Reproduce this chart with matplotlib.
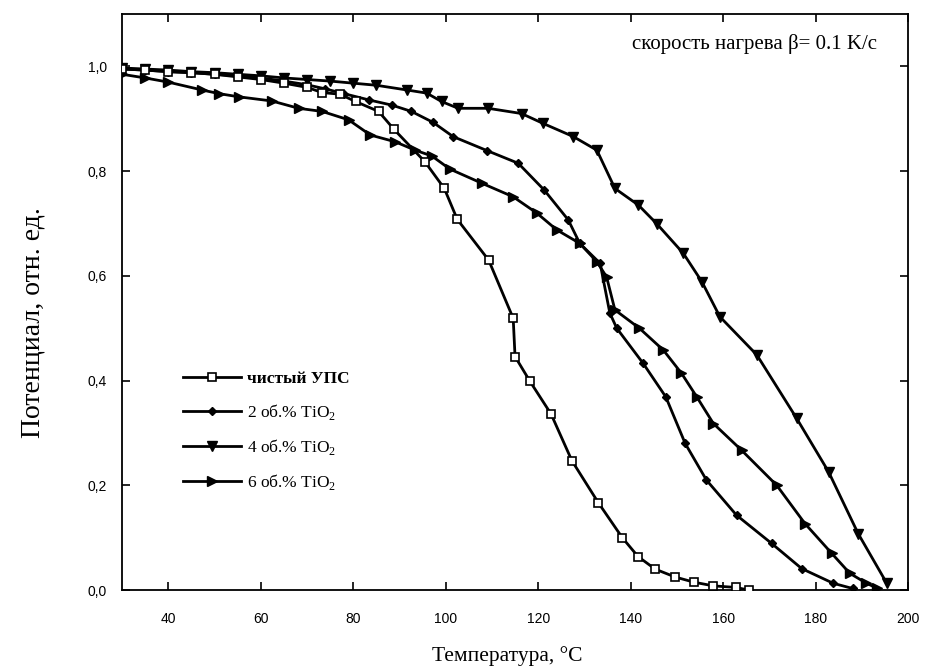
import matplotlib
matplotlib.use("Agg")
import matplotlib.pyplot as plt
from matplotlib.ticker import FuncFormatter, MultipleLocator

# температура, °C и потенциал (отн. ед.) для каждого образца
t_pure = [30, 35, 40, 45, 50, 55, 60, 65, 70, 73.3, 77.1, 80.5, 85.5, 88.8, 95.5, 99.7,
          102.5, 109.3, 114.6, 115.0, 118.2, 122.8, 127.3, 133.0, 138.2, 141.6, 145.3,
          149.6, 153.7, 157.9, 162.8, 165.5]
v_pure = [0.995, 0.993, 0.99, 0.988, 0.985, 0.98, 0.975, 0.968, 0.96, 0.95, 0.947, 0.933,
          0.914, 0.88, 0.818, 0.767, 0.708, 0.63, 0.519, 0.446, 0.399, 0.336, 0.247, 0.167,
          0.10, 0.064, 0.04, 0.025, 0.015, 0.008, 0.005, 0.0]

t_ti2 = [30, 35, 40, 45, 50, 55, 60, 65, 70, 74, 78, 83.4, 88.4, 92.6, 97.3, 101.6, 109.0,
         115.7, 121.3, 126.5, 129.0, 133.4, 135.5, 137.0, 142.7, 147.6, 151.8, 156.4,
         162.9, 170.5, 177.0, 183.8, 188.0]
v_ti2 = [0.995, 0.993, 0.99, 0.988, 0.985, 0.982, 0.978, 0.972, 0.965, 0.957, 0.948, 0.936,
         0.926, 0.914, 0.893, 0.866, 0.839, 0.815, 0.764, 0.707, 0.662, 0.624, 0.529, 0.50,
         0.433, 0.369, 0.28, 0.21, 0.143, 0.089, 0.041, 0.013, 0.003]

t_ti4 = [30, 35, 40, 45, 50, 55, 60, 65, 70, 75, 80, 85, 91.6, 95.9, 99.1, 102.7, 109.2,
         116.4, 121.1, 127.6, 132.7, 136.6, 141.7, 145.6, 151.4, 155.4, 159.3, 167.3,
         175.9, 182.8, 189.2, 195.4]
v_ti4 = [0.997, 0.995, 0.993, 0.99, 0.988, 0.985, 0.982, 0.978, 0.975, 0.972, 0.968, 0.964,
         0.955, 0.949, 0.933, 0.92, 0.92, 0.91, 0.891, 0.866, 0.84, 0.767, 0.735, 0.70,
         0.643, 0.589, 0.522, 0.449, 0.328, 0.226, 0.108, 0.013]

t_ti6 = [30, 35, 40, 47.3, 51, 55.2, 62.4, 68.2, 73.3, 79.0, 83.7, 89.1, 93.4, 97.0, 100.9,
         107.8, 114.6, 119.7, 124.0, 129.0, 132.7, 134.8, 136.6, 141.9, 147.1, 151.0,
         154.3, 157.9, 164.0, 171.6, 177.7, 183.5, 187.4, 191.0, 193.2]
v_ti6 = [0.985, 0.978, 0.97, 0.955, 0.948, 0.942, 0.934, 0.92, 0.914, 0.898, 0.869, 0.856,
         0.84, 0.829, 0.804, 0.777, 0.751, 0.72, 0.688, 0.662, 0.627, 0.598, 0.535, 0.50,
         0.458, 0.414, 0.369, 0.318, 0.267, 0.20, 0.127, 0.07, 0.032, 0.013, 0.004]

labels = ["чистый УПС", "2 об.% TiO$_2$", "4 об.% TiO$_2$", "6 об.% TiO$_2$"]

serif = "Liberation Serif"
sans = "Liberation Sans"
plt.rcParams["mathtext.fontset"] = "custom"
plt.rcParams["mathtext.rm"] = serif

fig = plt.figure(figsize=(9.28, 6.69), dpi=100)
ax = fig.add_axes([0.1315, 0.118, 0.847, 0.861])

lw = 2.0
ax.plot(t_pure, v_pure, color="black", lw=lw, marker="s", ms=6, mfc="white",
        mec="black", mew=1.2, label=labels[0], zorder=3)
ax.plot(t_ti2, v_ti2, color="black", lw=lw, marker="D", ms=4.5, mfc="black",
        mec="black", label=labels[1], zorder=2)
ax.plot(t_ti4, v_ti4, color="black", lw=lw, marker="v", ms=7, mfc="black",
        mec="black", label=labels[2], zorder=2)
ax.plot(t_ti6, v_ti6, color="black", lw=lw, marker=">", ms=7, mfc="black",
        mec="black", label=labels[3], zorder=2)

ax.set_xlim(30, 200)
ax.set_ylim(0, 1.1)
ax.xaxis.set_major_locator(MultipleLocator(20))
ax.set_yticks([0, 0.2, 0.4, 0.6, 0.8, 1.0])
ax.yaxis.set_major_formatter(FuncFormatter(lambda v, p: f"{v:.1f}".replace(".", ",")))
ax.tick_params(direction="in", length=6, width=1.2, top=True, right=True,
               labelsize=10, colors="black")
ax.tick_params(axis="x", pad=16)
ax.tick_params(axis="y", pad=11)
for lab in ax.get_xticklabels() + ax.get_yticklabels():
    lab.set_fontfamily(sans)
for s in ax.spines.values():
    s.set_linewidth(1.3)

ax.set_xlabel("Температура, °C", fontfamily=serif, fontsize=15.5)
ax.set_ylabel("Потенциал, отн. ед.", fontfamily=serif, fontsize=20)
ax.xaxis.set_label_coords(0.49, -0.098)
ax.yaxis.set_label_coords(-0.098, 0.465)

ax.text(0.96, 0.948, "скорость нагрева β= 0.1 K/c", transform=ax.transAxes,
        ha="right", va="center", fontfamily=serif, fontsize=15)

leg = ax.legend(loc="upper left", bbox_to_anchor=(0.078, 0.38), frameon=False,
                prop={"family": serif, "size": 12.5}, handlelength=3.3,
                handletextpad=0.35, labelspacing=0.85, borderaxespad=0,
                borderpad=0)
leg.get_texts()[0].set_fontweight("bold")

fig.savefig("out.png", dpi=100)
